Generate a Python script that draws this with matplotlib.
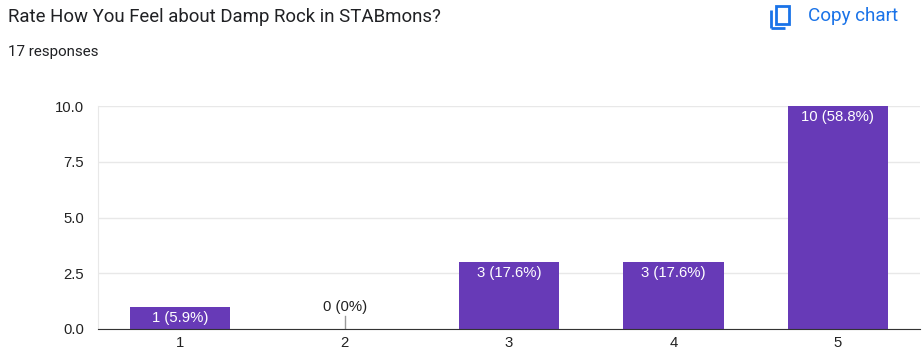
import matplotlib.pyplot as plt
from matplotlib.patches import Rectangle

plt.rcParams['font.family'] = ['Roboto', 'DejaVu Sans']

ratings = ["1", "2", "3", "4", "5"]
counts = [1, 0, 3, 3, 10]
total = 17
title = "Rate How You Feel about Damp Rock in STABmons?"
subtitle = f"{total} responses"
yticks = [0.0, 2.5, 5.0, 7.5, 10.0]

purple = "#673ab7"
chart_font = ['Liberation Sans', 'DejaVu Sans']

fig = plt.figure(figsize=(9.22, 3.64), dpi=100)
ax = fig.add_axes([98 / 922, 35 / 364, 822 / 922, 223 / 364])

x = range(len(ratings))
bars = ax.bar(x, counts, width=0.61, color=purple, zorder=3)

for i, (b, c) in enumerate(zip(bars, counts)):
    pct = c / total * 100
    label = f"{c} ({pct:.1f}%)" if c else f"{c} (0%)"
    if c > 0:
        ax.annotate(label, (i, c), xytext=(0, -3), textcoords="offset points",
                    ha="center", va="top", color="white", fontsize=10.7,
                    family=chart_font)
    else:
        ax.plot([i, i], [0, 0.6], color="#999999", lw=1, zorder=4)
        ax.annotate(label, (i, 0.6), xytext=(0, 1), textcoords="offset points",
                    ha="center", va="bottom", color="#222222", fontsize=10.7,
                    family=chart_font)

ax.set_xlim(-0.5, len(ratings) - 0.5)
ax.set_ylim(0, 10)
ax.set_xticks(list(x))
ax.set_xticklabels(ratings, family=chart_font)
ax.set_yticks(yticks)
ax.set_yticklabels([f"{v:.1f}" for v in yticks], family=chart_font)
ax.tick_params(length=0, labelsize=10.7, colors="#222222", pad=10)
ax.tick_params(axis="x", pad=5)
ax.grid(axis="y", color="#e8e8e8", lw=1, zorder=0)
for s in ["top", "right"]:
    ax.spines[s].set_visible(False)
ax.spines["left"].set_color("#e8e8e8")
ax.spines["bottom"].set_color("#333333")
ax.spines["bottom"].set_zorder(5)

fig.text(8 / 922, 1 - 17 / 364, title, fontsize=13.4, color="#202124", va="center")
fig.text(8 / 922, 1 - 52 / 364, subtitle, fontsize=10.9, color="#202124", va="center")
fig.text(808 / 922, 1 - 16 / 364, "Copy chart", fontsize=13.6, color="#1a73e8", va="center")

# copy icon
blue = "#1a73e8"
fig.patches.append(Rectangle((776 / 922, 1 - 24 / 364), 13 / 922, 18 / 364,
                             transform=fig.transFigure, fill=False, ec=blue, lw=2))
fig.patches.append(Rectangle((771 / 922, 1 - 28 / 364), 0, 18 / 364,
                             transform=fig.transFigure, fill=False, ec=blue, lw=2))
fig.patches.append(Rectangle((771 / 922, 1 - 28 / 364), 14 / 922, 0,
                             transform=fig.transFigure, fill=False, ec=blue, lw=2))

fig.savefig("out.png", dpi=100, facecolor="white")
